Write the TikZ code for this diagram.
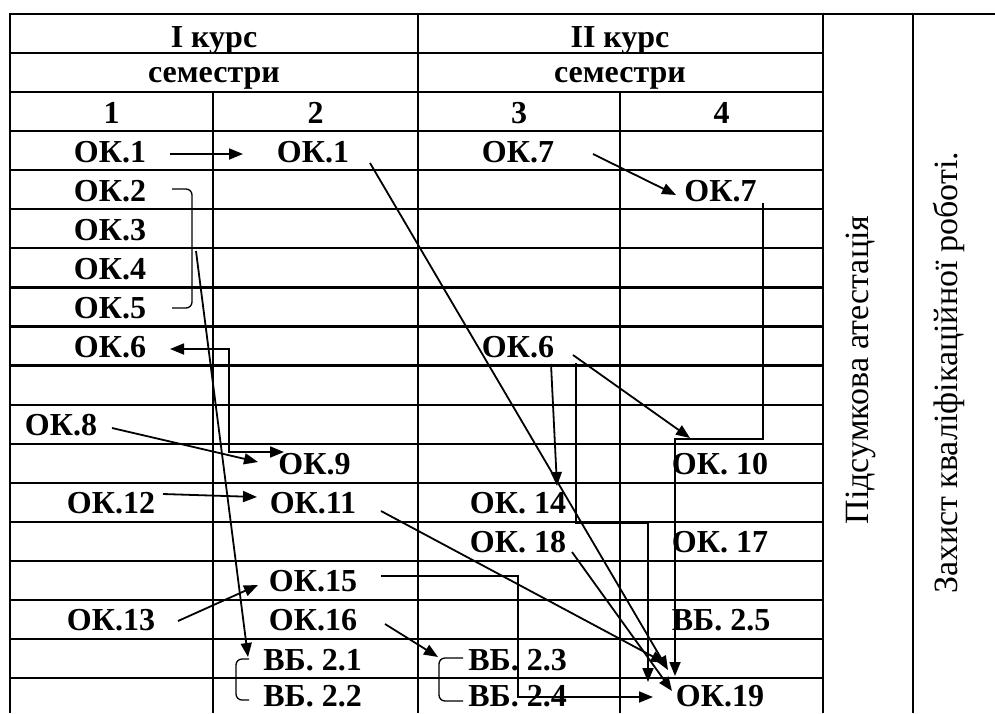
\documentclass[tikz,border=0pt]{standalone}
\usepackage{fontspec}
\setmainfont{Liberation Serif}
\usetikzlibrary{arrows.meta}
\begin{document}
\begin{tikzpicture}[x=1pt,y=-1pt,
  grid/.style={line width=2.2pt},
  cell/.style={font=\bfseries\fontsize{32}{36}\selectfont, anchor=base, inner sep=0pt},
  side/.style={font=\fontsize{34}{40}\selectfont, rotate=90, anchor=base, inner sep=0pt},
  arr/.style={line width=1.8pt, -{Triangle[length=14pt,width=11pt]}},
  dbl/.style={line width=1.8pt, {Triangle[length=14pt,width=11pt]}-{Triangle[length=14pt,width=11pt]}},
  brk/.style={line width=1.3pt, rounded corners=6pt},
]
\useasboundingbox (0,0) rectangle (995,713);
\fill[white] (0,0) rectangle (995,713);
% grid
\draw[grid] (10,14) -- (995,14);
\foreach \k in {1,...,17} \draw[grid] (10,{14+39.06*\k}) -- (823,{14+39.06*\k});
\draw[grid] (10,13) -- (10,713);
\draw[grid] (418,14) -- (418,713);
\draw[grid] (213,92.12) -- (213,713);
\draw[grid] (620,92.12) -- (620,713);
\draw[grid] (823,14) -- (823,713);
\draw[grid] (913,14) -- (913,713);
% headers
\node[cell] (h1) at (214,47) {I курс};
\node[cell] (h2) at (620,47) {II курс};
\node[cell] (s1) at (214,82) {семестри};
\node[cell] (s2) at (620,82) {семестри};
\node[cell] (n1) at (111.5,123) {1};
\node[cell] (n2) at (315.5,123) {2};
\node[cell] (n3) at (519,123) {3};
\node[cell] (n4) at (721.5,123) {4};
% column 1
\node[cell] (a1) at (110,162) {ОК.1};
\node[cell] (a2) at (110,201) {ОК.2};
\node[cell] (a3) at (110,240) {ОК.3};
\node[cell] (a4) at (110,279) {ОК.4};
\node[cell] (a5) at (110,318) {ОК.5};
\node[cell] (a6) at (110,357.5) {ОК.6};
\node[cell] (a8) at (61,435.6) {ОК.8};
\node[cell] (a12) at (111,513.7) {ОК.12};
\node[cell] (a13) at (111,630.9) {ОК.13};
% column 2
\node[cell] (b1) at (313,162) {ОК.1};
\node[cell] (b9) at (314.5,474.7) {ОК.9};
\node[cell] (b11) at (313,513.7) {ОК.11};
\node[cell] (b15) at (313,591.8) {ОК.15};
\node[cell] (b16) at (313,630.9) {ОК.16};
\node[cell] (v21) at (312.5,670) {ВБ. 2.1};
\node[cell] (v22) at (312.5,706) {ВБ. 2.2};
% column 3
\node[cell] (c7) at (518,162) {ОК.7};
\node[cell] (c6) at (518,357.5) {ОК.6};
\node[cell] (c14) at (518,513.7) {ОК. 14};
\node[cell] (c18) at (518,552.8) {ОК. 18};
\node[cell] (v23) at (517.5,670) {ВБ. 2.3};
\node[cell] (v24) at (517.5,706) {ВБ. 2.4};
% column 4
\node[cell] (d7) at (720.5,201) {ОК.7};
\node[cell] (d10) at (720,474.7) {ОК. 10};
\node[cell] (d17) at (720,552.8) {ОК. 17};
\node[cell] (v25) at (721,630.9) {ВБ. 2.5};
\node[cell] (d19) at (720,706) {ОК.19};
% side columns
\node[side] (pa) at (868,370) {Підсумкова атестація};
\node[side] (zk) at (957,373) {Захист кваліфікаційної роботі.};
% connector end points
\coordinate (a1o) at (170,154);   \coordinate (b1i) at (243,154);
\coordinate (a3o) at (196,251);   \coordinate (v21i) at (248,657);
\coordinate (a6i) at (170,349);   \coordinate (b9j) at (284,452);
\coordinate (a8o) at (112,428);   \coordinate (b9i) at (258,462);
\coordinate (a12o) at (163,494);  \coordinate (b11i) at (257,497);
\coordinate (a13o) at (178,621);  \coordinate (b15i) at (258,585);
\coordinate (b16o) at (385,624);  \coordinate (v23i) at (438,657);
\coordinate (b15o) at (381,576);  \coordinate (d19a) at (653,697);
\coordinate (c7o) at (593,154);   \coordinate (d7i) at (676,195);
\coordinate (d7o) at (763,203);   \coordinate (d19b) at (675,676);
\coordinate (b1o) at (370,163);   \coordinate (d19c) at (668,670);
\coordinate (c6o) at (551,364);   \coordinate (c14i) at (557,486);
\coordinate (c6p) at (573,355);   \coordinate (d10i) at (690,438);
\coordinate (c6q) at (576,363);   \coordinate (d19d) at (648,682);
\coordinate (c18o) at (572,552);  \coordinate (d19e) at (672,691);
\coordinate (b11o) at (381,511);  \coordinate (d19f) at (665,663);
% connectors
\draw[arr] (a1o) -- (b1i);
\draw[brk] (172,189) -- (192,189) -- (192,308) -- (172,308);
\draw[arr] (a3o) -- (v21i);
\draw[dbl] (a6i) -- (229,349) -- (229,452) -- (b9j);
\draw[arr] (a8o) -- (b9i);
\draw[arr] (a12o) -- (b11i);
\draw[arr] (a13o) -- (b15i);
\draw[arr] (b16o) -- (v23i);
\draw[arr] (b15o) -- (518,576) -- (518,697) -- (d19a);
\draw[brk] (249,659) -- (236,659) -- (236,700) -- (249,700);
\draw[brk] (463,658) -- (439,658) -- (439,701) -- (463,701);
\draw[arr] (c7o) -- (d7i);
\draw[arr] (d7o) -- (763,439) -- (675,439) -- (d19b);
\draw[arr] (b1o) -- (d19c);
\draw[arr] (c6o) -- (c14i);
\draw[arr] (c6p) -- (d10i);
\draw[arr] (c6q) -- (576,523) -- (648,523) -- (d19d);
\draw[arr] (c18o) -- (d19e);
\draw[arr] (b11o) -- (d19f);
\end{tikzpicture}
\end{document}
